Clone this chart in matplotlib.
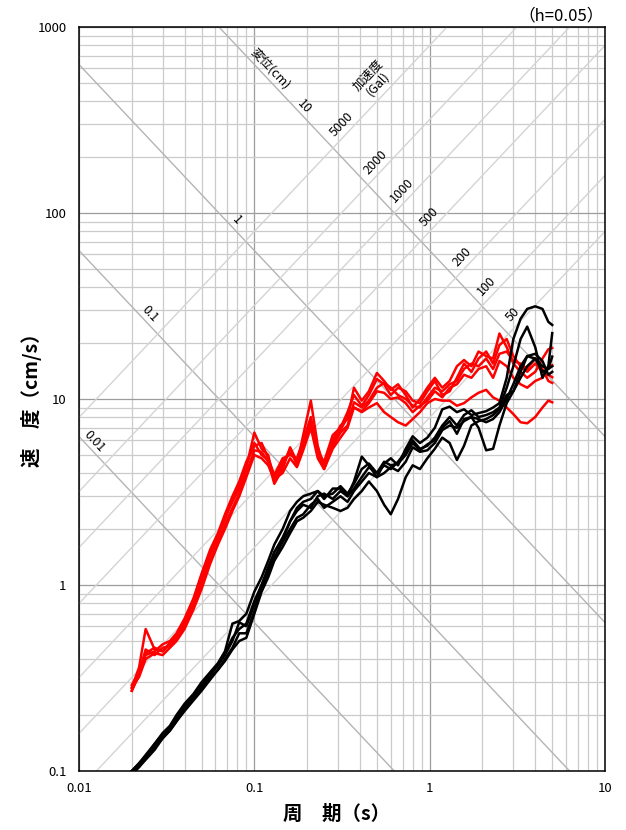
import numpy as np
import matplotlib
matplotlib.use('Agg')
import matplotlib.pyplot as plt
from matplotlib.ticker import LogLocator, NullFormatter, FixedLocator, FixedFormatter

plt.rcParams['font.family'] = ['Noto Sans CJK JP', 'DejaVu Sans']

# 周期 (s)
period = [0.020, 0.022, 0.024, 0.027, 0.030, 0.033, 0.036, 0.040, 0.045, 0.050,
          0.056, 0.062, 0.068, 0.075, 0.082, 0.090, 0.100, 0.11, 0.12, 0.13,
          0.145, 0.16, 0.175, 0.19, 0.21, 0.23, 0.25, 0.28, 0.31, 0.34,
          0.37, 0.41, 0.45, 0.50, 0.55, 0.60, 0.66, 0.73, 0.80, 0.88,
          0.97, 1.07, 1.18, 1.30, 1.43, 1.57, 1.73, 1.90, 2.10, 2.30,
          2.50, 2.75, 3.00, 3.30, 3.60, 4.00, 4.40, 4.75, 5.00]

# 速度応答 (cm/s) - 赤
red1 = [0.28, 0.36, 0.58, 0.45, 0.44, 0.48, 0.52, 0.62, 0.80, 1.05,
        1.45, 1.80, 2.3, 2.8, 3.3, 4.3, 6.6, 5.4, 5.0, 3.6,
        4.4, 5.4, 4.4, 6.4, 9.8, 5.6, 4.3, 6.0, 7.2, 7.8,
        11.5, 9.8, 11.0, 13.8, 12.5, 11.2, 12.0, 10.5, 9.0, 10.0,
        11.5, 13.0, 11.5, 12.5, 15.0, 16.2, 15.0, 18.0, 17.0, 16.5,
        22.5, 19.0, 15.5, 14.0, 13.0, 14.0, 16.5, 18.5, 18.8]
red2 = [0.27, 0.33, 0.42, 0.44, 0.48, 0.50, 0.55, 0.66, 0.85, 1.15,
        1.55, 1.9, 2.4, 3.0, 3.6, 4.6, 5.6, 5.8, 4.8, 3.9,
        4.8, 5.0, 4.8, 6.0, 8.0, 5.2, 4.6, 6.4, 7.0, 8.5,
        10.5, 9.2, 10.5, 12.8, 12.0, 10.5, 11.5, 11.0, 9.8, 9.5,
        11.0, 12.5, 10.5, 11.0, 13.0, 15.5, 14.0, 16.5, 18.0, 15.5,
        19.5, 21.0, 17.0, 15.0, 14.0, 15.5, 14.0, 13.5, 13.1]
red3 = [0.29, 0.34, 0.45, 0.42, 0.46, 0.47, 0.52, 0.60, 0.76, 1.0,
        1.35, 1.7, 2.1, 2.6, 3.1, 4.0, 5.3, 5.2, 4.6, 3.5,
        4.2, 5.5, 4.6, 5.6, 7.2, 5.0, 4.2, 5.6, 6.6, 7.2,
        9.6, 9.0, 9.8, 11.5, 12.2, 11.5, 10.5, 10.0, 9.2, 9.0,
        10.2, 11.5, 11.0, 12.0, 12.5, 14.5, 15.5, 15.0, 16.5, 14.5,
        17.5, 18.0, 16.0, 15.5, 14.5, 16.5, 14.5, 12.5, 12.2]
red4 = [0.28, 0.32, 0.40, 0.43, 0.42, 0.46, 0.50, 0.58, 0.74, 0.95,
        1.3, 1.65, 2.0, 2.5, 3.0, 3.8, 5.0, 4.8, 4.4, 3.7,
        4.0, 4.8, 4.3, 5.3, 7.0, 4.8, 4.2, 5.4, 6.2, 7.0,
        9.0, 8.6, 9.5, 11.0, 10.8, 10.0, 10.2, 9.5, 8.5, 9.2,
        9.8, 11.0, 10.2, 11.5, 12.0, 13.5, 13.0, 14.5, 15.0, 13.0,
        16.0, 15.0, 13.0, 12.0, 11.5, 12.5, 13.0, 15.0, 15.2]
red5 = [0.27, 0.33, 0.43, 0.46, 0.44, 0.49, 0.54, 0.63, 0.82, 1.1,
        1.5, 1.85, 2.25, 2.9, 3.4, 4.4, 5.8, 5.0, 4.7, 3.8,
        4.6, 5.1, 4.7, 5.8, 7.6, 5.3, 4.5, 5.8, 6.8, 8.0,
        9.0, 8.5, 9.0, 9.5, 8.5, 8.0, 7.5, 7.2, 7.8, 8.5,
        9.5, 10.0, 9.8, 9.8, 9.2, 9.5, 10.2, 10.8, 11.2, 10.2,
        9.8, 9.0, 8.3, 7.5, 7.4, 8.0, 9.0, 9.8, 9.6]

# 速度応答 (cm/s) - 黒
black1 = [0.10, 0.11, 0.12, 0.14, 0.16, 0.175, 0.20, 0.23, 0.26, 0.30,
          0.34, 0.38, 0.44, 0.62, 0.64, 0.70, 0.92, 1.1, 1.35, 1.65,
          2.0, 2.5, 2.8, 3.0, 3.1, 3.2, 2.9, 3.3, 3.3, 3.0,
          3.6, 4.9, 4.4, 3.8, 4.5, 4.8, 4.4, 5.4, 6.3, 5.8,
          6.2, 7.0, 8.8, 9.1, 8.5, 8.8, 8.2, 8.4, 8.6, 9.0,
          9.5, 13.0, 21.0, 27.0, 30.5, 31.5, 30.5, 26.0, 25.0]
black2 = [0.10, 0.105, 0.118, 0.135, 0.152, 0.168, 0.19, 0.22, 0.25, 0.28,
          0.33, 0.37, 0.42, 0.50, 0.63, 0.60, 0.78, 1.0, 1.2, 1.5,
          1.8, 2.2, 2.5, 2.7, 2.6, 3.0, 3.1, 2.9, 3.2, 3.0,
          3.3, 3.8, 4.3, 4.0, 4.4, 4.2, 4.6, 5.2, 6.0, 5.4,
          5.6, 6.2, 7.2, 8.0, 7.2, 8.2, 8.7, 8.0, 8.2, 8.5,
          9.0, 11.5, 15.0, 21.0, 24.5, 19.0, 13.0, 15.0, 22.6]
black3 = [0.095, 0.105, 0.115, 0.13, 0.15, 0.165, 0.185, 0.21, 0.24, 0.27,
          0.31, 0.35, 0.40, 0.46, 0.55, 0.55, 0.72, 0.95, 1.15, 1.4,
          1.7, 2.0, 2.3, 2.4, 2.7, 2.9, 2.6, 2.8, 3.0, 2.8,
          3.2, 3.6, 4.0, 3.8, 4.0, 4.3, 4.1, 4.6, 5.5, 5.2,
          5.3, 5.8, 6.8, 7.2, 7.0, 7.6, 8.0, 7.8, 7.5, 7.8,
          8.5, 10.0, 12.0, 15.0, 17.0, 16.5, 14.0, 14.5, 16.9]
black4 = [0.098, 0.108, 0.12, 0.135, 0.15, 0.165, 0.185, 0.215, 0.245, 0.28,
          0.32, 0.35, 0.39, 0.45, 0.50, 0.52, 0.70, 0.92, 1.1, 1.35,
          1.6, 1.9, 2.2, 2.3, 2.5, 2.8, 2.7, 2.6, 2.5, 2.6,
          2.9, 3.2, 3.6, 3.2, 2.7, 2.4, 2.9, 3.8, 4.4, 4.2,
          4.8, 5.4, 6.2, 5.8, 4.7, 5.6, 7.2, 7.6, 7.8, 8.2,
          8.8, 10.5, 11.0, 13.0, 15.0, 16.5, 15.0, 14.5, 15.0]
black5 = [0.10, 0.11, 0.122, 0.14, 0.158, 0.172, 0.195, 0.225, 0.255, 0.29,
          0.33, 0.37, 0.43, 0.52, 0.58, 0.62, 0.82, 1.0, 1.25, 1.5,
          1.75, 2.2, 2.6, 2.8, 2.9, 3.2, 3.0, 3.1, 3.4, 3.1,
          3.5, 4.2, 4.5, 4.0, 4.6, 4.4, 4.5, 5.0, 5.8, 5.3,
          5.7, 6.0, 7.0, 7.6, 6.5, 7.8, 8.0, 7.0, 5.3, 5.4,
          7.2, 9.5, 11.0, 14.0, 17.0, 17.5, 16.0, 13.5, 14.0]

# 三軸目盛
disp_levels = [0.01, 0.1, 1, 10]          # 変位 (cm)
disp_label_T = [0.0114, 0.0235, 0.0736, 0.18]
acc_levels = [50, 100, 200, 500, 1000, 2000, 5000]   # 加速度 (Gal)
acc_label_T = [3.28, 2.33, 1.68, 1.10, 0.763, 0.542, 0.347]

xticks = [0.01, 0.1, 1, 10]
xtick_labels = ['0.01', '0.1', '1', '10']
yticks = [0.1, 1, 10, 100, 1000]
ytick_labels = ['0.1', '1', '10', '100', '1000']

fig = plt.figure(figsize=(6.26, 8.30), dpi=100)
ax = fig.add_axes([79/626, 59/830, 526/626, 744/830])
ax.set_xscale('log')
ax.set_yscale('log')
ax.set_xlim(0.01, 10)
ax.set_ylim(0.1, 1000)

for axis in (ax.xaxis, ax.yaxis):
    axis.set_minor_locator(LogLocator(base=10, subs=np.arange(2, 10), numticks=30))
    axis.set_minor_formatter(NullFormatter())
ax.xaxis.set_major_locator(FixedLocator(xticks))
ax.xaxis.set_major_formatter(FixedFormatter(xtick_labels))
ax.yaxis.set_major_locator(FixedLocator(yticks))
ax.yaxis.set_major_formatter(FixedFormatter(ytick_labels))
ax.tick_params(which='both', length=0)
ax.tick_params(axis='x', pad=8, labelsize=9.5)
ax.tick_params(axis='y', pad=9, labelsize=9.5)

ax.grid(which='minor', color='#cbcbcb', lw=0.9, zorder=0)
ax.grid(which='major', color='#9c9c9c', lw=0.9, zorder=0)
ax.set_axisbelow(True)
for sp in ax.spines.values():
    sp.set_color('black')
    sp.set_linewidth(1.1)

# 斜め線
tt = np.array([0.005, 20])
for d in disp_levels:
    ax.plot(tt, 2*np.pi*d/tt, color='#b4b4b4', lw=1.0, zorder=1)
for a in acc_levels:
    ax.plot(tt, a*tt/(2*np.pi), color='#d4d4d4', lw=1.0, zorder=1)

ang = np.degrees(np.arctan((744/4)/(526/3)))
for d, t in zip(disp_levels, disp_label_T):
    ax.annotate('%g' % d, (t, 2*np.pi*d/t), xytext=(4, 4), textcoords='offset points',
                rotation=-ang, rotation_mode='anchor', ha='center', va='center', fontsize=9)
ax.annotate('変位(cm)', (0.1136, 2*np.pi*10/0.1136), xytext=(4.5, 4.5), textcoords='offset points',
            rotation=-ang, rotation_mode='anchor', ha='center', va='center', fontsize=9)
for a, t in zip(acc_levels, acc_label_T):
    ax.annotate('%g' % a, (t, a*t/(2*np.pi)), xytext=(-5.2, 5.0), textcoords='offset points',
                rotation=ang, rotation_mode='anchor', ha='center', va='center', fontsize=9)
ax.text(0.475, 520, '加速度\n(Gal)', rotation=ang, rotation_mode='anchor',
        ha='center', va='center', fontsize=9, linespacing=1.0)

# スペクトル
for s in [red1, red2, red3, red4, red5]:
    ax.plot(period, s, color='#ff0000', lw=1.8, zorder=3)
for s in [black1, black2, black3, black4, black5]:
    ax.plot(period, s, color='black', lw=1.8, zorder=4)

ax.set_xlabel('周\u3000期（s）', fontsize=14, fontweight='bold')
ax.xaxis.set_label_coords(0.489, -0.045)
ax.set_ylabel('速\u3000度（cm/s）', fontsize=14, fontweight='bold')
ax.yaxis.set_label_coords(-0.070, 0.505)

fig.text(604/626, 1 - 16/830, '（h=0.05）', ha='right', va='center', fontsize=12)

fig.savefig('out.png', dpi=100)
